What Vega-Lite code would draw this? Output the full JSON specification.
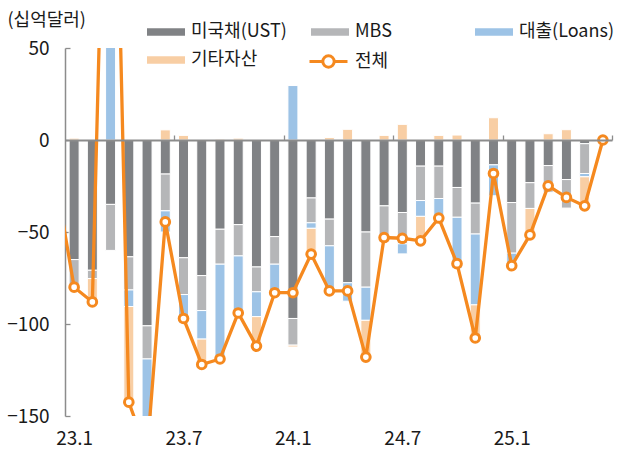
{
  "$schema": "https://vega.github.io/schema/vega-lite/v6.json",
  "autosize": {"type": "none"},
  "width": 547,
  "height": 368,
  "padding": {"left": 65, "top": 48, "right": 6, "bottom": 34},
  "config": {"font": "Noto Sans CJK KR", "view": {"stroke": null}, "axis": {"grid": false}},
  "datasets": {
    "flows": [
      {"month":"23.1","i":1,"series":"미국채(UST)","value":-65},
      {"month":"23.1","i":1,"series":"MBS","value":-15},
      {"month":"23.1","i":1,"series":"기타자산","value":1},
      {"month":"23.2","i":2,"series":"미국채(UST)","value":-70.8},
      {"month":"23.2","i":2,"series":"MBS","value":-4.5},
      {"month":"23.2","i":2,"series":"기타자산","value":-12.5},
      {"month":"23.3","i":3,"series":"미국채(UST)","value":-35},
      {"month":"23.3","i":3,"series":"MBS","value":-25},
      {"month":"23.3","i":3,"series":"대출(Loans)","value":350},
      {"month":"23.4","i":4,"series":"미국채(UST)","value":-63.5},
      {"month":"23.4","i":4,"series":"MBS","value":-18},
      {"month":"23.4","i":4,"series":"대출(Loans)","value":-9},
      {"month":"23.4","i":4,"series":"기타자산","value":-52},
      {"month":"23.5","i":5,"series":"미국채(UST)","value":-101},
      {"month":"23.5","i":5,"series":"MBS","value":-18},
      {"month":"23.5","i":5,"series":"대출(Loans)","value":-51},
      {"month":"23.6","i":6,"series":"미국채(UST)","value":-18.5},
      {"month":"23.6","i":6,"series":"MBS","value":-20},
      {"month":"23.6","i":6,"series":"대출(Loans)","value":-11.5},
      {"month":"23.6","i":6,"series":"기타자산","value":5.5},
      {"month":"23.7","i":7,"series":"미국채(UST)","value":-64},
      {"month":"23.7","i":7,"series":"MBS","value":-20},
      {"month":"23.7","i":7,"series":"대출(Loans)","value":-15.5},
      {"month":"23.7","i":7,"series":"기타자산","value":2.5},
      {"month":"23.8","i":8,"series":"미국채(UST)","value":-73.7},
      {"month":"23.8","i":8,"series":"MBS","value":-19},
      {"month":"23.8","i":8,"series":"대출(Loans)","value":-15.5},
      {"month":"23.8","i":8,"series":"기타자산","value":-13.8},
      {"month":"23.9","i":9,"series":"미국채(UST)","value":-48.5},
      {"month":"23.9","i":9,"series":"MBS","value":-19},
      {"month":"23.9","i":9,"series":"대출(Loans)","value":-52},
      {"month":"23.9","i":9,"series":"기타자산","value":0.5},
      {"month":"23.10","i":10,"series":"미국채(UST)","value":-46},
      {"month":"23.10","i":10,"series":"MBS","value":-17},
      {"month":"23.10","i":10,"series":"대출(Loans)","value":-32},
      {"month":"23.10","i":10,"series":"기타자산","value":1},
      {"month":"23.11","i":11,"series":"미국채(UST)","value":-69},
      {"month":"23.11","i":11,"series":"MBS","value":-13.5},
      {"month":"23.11","i":11,"series":"대출(Loans)","value":-13.5},
      {"month":"23.11","i":11,"series":"기타자산","value":-16},
      {"month":"23.12","i":12,"series":"미국채(UST)","value":-52.5},
      {"month":"23.12","i":12,"series":"MBS","value":-15},
      {"month":"23.12","i":12,"series":"대출(Loans)","value":-15.5},
      {"month":"24.1","i":13,"series":"미국채(UST)","value":-97},
      {"month":"24.1","i":13,"series":"MBS","value":-14.5},
      {"month":"24.1","i":13,"series":"대출(Loans)","value":29.6},
      {"month":"24.1","i":13,"series":"기타자산","value":-1},
      {"month":"24.2","i":14,"series":"미국채(UST)","value":-31.5},
      {"month":"24.2","i":14,"series":"MBS","value":-13.5},
      {"month":"24.2","i":14,"series":"대출(Loans)","value":-3},
      {"month":"24.2","i":14,"series":"기타자산","value":-14},
      {"month":"24.3","i":15,"series":"미국채(UST)","value":-43},
      {"month":"24.3","i":15,"series":"MBS","value":-14.5},
      {"month":"24.3","i":15,"series":"대출(Loans)","value":-26},
      {"month":"24.3","i":15,"series":"기타자산","value":1.3},
      {"month":"24.4","i":16,"series":"미국채(UST)","value":-77.6},
      {"month":"24.4","i":16,"series":"대출(Loans)","value":-10},
      {"month":"24.4","i":16,"series":"기타자산","value":5.8},
      {"month":"24.5","i":17,"series":"미국채(UST)","value":-50},
      {"month":"24.5","i":17,"series":"MBS","value":-30},
      {"month":"24.5","i":17,"series":"대출(Loans)","value":-18},
      {"month":"24.5","i":17,"series":"기타자산","value":-20},
      {"month":"24.6","i":18,"series":"미국채(UST)","value":-35.8},
      {"month":"24.6","i":18,"series":"MBS","value":-19.6},
      {"month":"24.6","i":18,"series":"기타자산","value":2.5},
      {"month":"24.7","i":19,"series":"미국채(UST)","value":-39.4},
      {"month":"24.7","i":19,"series":"MBS","value":-17},
      {"month":"24.7","i":19,"series":"대출(Loans)","value":-5.5},
      {"month":"24.7","i":19,"series":"기타자산","value":8.5},
      {"month":"24.8","i":20,"series":"미국채(UST)","value":-14.2},
      {"month":"24.8","i":20,"series":"MBS","value":-18.7},
      {"month":"24.8","i":20,"series":"대출(Loans)","value":-8.6},
      {"month":"24.8","i":20,"series":"기타자산","value":-13.3},
      {"month":"24.9","i":21,"series":"미국채(UST)","value":-14.2},
      {"month":"24.9","i":21,"series":"MBS","value":-17.6},
      {"month":"24.9","i":21,"series":"대출(Loans)","value":-13.1},
      {"month":"24.9","i":21,"series":"기타자산","value":2.5},
      {"month":"24.10","i":22,"series":"미국채(UST)","value":-25.8},
      {"month":"24.10","i":22,"series":"MBS","value":-16.2},
      {"month":"24.10","i":22,"series":"대출(Loans)","value":-27.9},
      {"month":"24.10","i":22,"series":"기타자산","value":2.7},
      {"month":"24.11","i":23,"series":"미국채(UST)","value":-34.3},
      {"month":"24.11","i":23,"series":"MBS","value":-16.8},
      {"month":"24.11","i":23,"series":"대출(Loans)","value":-38.5},
      {"month":"24.11","i":23,"series":"기타자산","value":-18},
      {"month":"24.12","i":24,"series":"미국채(UST)","value":-13.5},
      {"month":"24.12","i":24,"series":"대출(Loans)","value":-16.8},
      {"month":"24.12","i":24,"series":"기타자산","value":12.1},
      {"month":"25.1","i":25,"series":"미국채(UST)","value":-34},
      {"month":"25.1","i":25,"series":"MBS","value":-27.5},
      {"month":"25.1","i":25,"series":"대출(Loans)","value":-6.5},
      {"month":"25.2","i":26,"series":"미국채(UST)","value":-23.2},
      {"month":"25.2","i":26,"series":"MBS","value":-14},
      {"month":"25.2","i":26,"series":"기타자산","value":-14.4},
      {"month":"25.3","i":27,"series":"미국채(UST)","value":-13.9},
      {"month":"25.3","i":27,"series":"MBS","value":-14.5},
      {"month":"25.3","i":27,"series":"기타자산","value":3.4},
      {"month":"25.4","i":28,"series":"미국채(UST)","value":-21.5},
      {"month":"25.4","i":28,"series":"MBS","value":-15.5},
      {"month":"25.4","i":28,"series":"기타자산","value":5.6},
      {"month":"25.5","i":29,"series":"미국채(UST)","value":-2},
      {"month":"25.5","i":29,"series":"MBS","value":-16.2},
      {"month":"25.5","i":29,"series":"대출(Loans)","value":-1.8},
      {"month":"25.5","i":29,"series":"기타자산","value":-15.8}
    ],
    "total": [
      {"month":"22.12","i":0,"total":-22},
      {"month":"23.1","i":1,"total":-80},
      {"month":"23.2","i":2,"total":-88},
      {"month":"23.3","i":3,"total":290},
      {"month":"23.4","i":4,"total":-142.5},
      {"month":"23.5","i":5,"total":-170},
      {"month":"23.6","i":6,"total":-44.5},
      {"month":"23.7","i":7,"total":-97},
      {"month":"23.8","i":8,"total":-122},
      {"month":"23.9","i":9,"total":-119},
      {"month":"23.10","i":10,"total":-94},
      {"month":"23.11","i":11,"total":-112},
      {"month":"23.12","i":12,"total":-83},
      {"month":"24.1","i":13,"total":-83},
      {"month":"24.2","i":14,"total":-62},
      {"month":"24.3","i":15,"total":-82},
      {"month":"24.4","i":16,"total":-82},
      {"month":"24.5","i":17,"total":-118},
      {"month":"24.6","i":18,"total":-53},
      {"month":"24.7","i":19,"total":-53.4},
      {"month":"24.8","i":20,"total":-54.8},
      {"month":"24.9","i":21,"total":-42.4},
      {"month":"24.10","i":22,"total":-67.2},
      {"month":"24.11","i":23,"total":-107.6},
      {"month":"24.12","i":24,"total":-18.2},
      {"month":"25.1","i":25,"total":-68.3},
      {"month":"25.2","i":26,"total":-51.6},
      {"month":"25.3","i":27,"total":-24.9},
      {"month":"25.4","i":28,"total":-31.2},
      {"month":"25.5","i":29,"total":-35.8},
      {"month":"25.6","i":30,"total":0}
    ]
  },
  "layer": [
    {
      "data": {"name": "flows"},
      "transform": [{"calculate": "indexof(['미국채(UST)','MBS','대출(Loans)','기타자산'], datum.series)", "as": "ord"}],
      "mark": {"type": "bar", "width": 10, "stroke": "white", "strokeWidth": 1, "clip": true},
      "encoding": {
        "x": {"field": "i", "type": "quantitative", "scale": {"domain": [0.5, 30.5], "nice": false, "zero": false, "padding": 0},
          "axis": {"orient": "bottom", "values": [1, 7, 13, 19, 25], "labelExpr": "(23 + floor((datum.value - 1) / 12)) + '.' + ((datum.value - 1) % 12 + 1)", "domain": false, "ticks": false, "labelPadding": 13, "labelFontSize": 19, "labelColor": "#1a1a1a", "title": null, "grid": false}},
        "y": {"field": "value", "type": "quantitative", "stack": "zero", "scale": {"domain": [-150, 50], "nice": false, "padding": 0},
          "axis": {"values": [50, 0, -50, -100, -150], "domainColor": "#8c8c8c", "domainWidth": 1.5, "tickColor": "#8c8c8c", "tickWidth": 1.3, "tickSize": -5, "labelPadding": 21, "labelFontSize": 19, "labelColor": "#1a1a1a",
            "title": "(십억달러)", "titleAngle": 0, "titleX": -58, "titleY": -28, "titleAlign": "left", "titleBaseline": "middle", "titleFontSize": 18, "titleFontWeight": "normal", "titleColor": "#1a1a1a"}},
        "color": {"field": "series", "type": "nominal",
          "scale": {"domain": ["미국채(UST)", "MBS", "대출(Loans)", "기타자산"], "range": ["#808285", "#b5b6b8", "#9dc3e6", "#f8cea4"]},
          "legend": {"orient": "none", "legendX": 82, "legendY": -35, "direction": "horizontal", "columns": 3, "gridAlign": "all", "columnPadding": 24, "rowPadding": -6, "title": null, "symbolType": "M-1,-0.2H1V0.2H-1Z", "symbolSize": 1444, "symbolStrokeWidth": 0, "labelFontSize": 18, "labelOffset": 6, "labelColor": "#1a1a1a", "padding": 0}},
        "order": {"field": "ord"}
      }
    },
    {
      "data": {"name": "total"},
      "mark": {"type": "line", "strokeWidth": 3.3, "clip": true},
      "encoding": {
        "x": {"field": "i", "type": "quantitative",
          "axis": {"orient": "top", "values": [6.5, 12.5, 18.5, 24.5, 30.5], "labels": false, "domain": true, "domainColor": "#8c8c8c", "domainWidth": 2, "ticks": true, "tickSize": 5, "tickColor": "#8c8c8c", "tickWidth": 1.3, "offset": -92, "zindex": 1, "title": null, "grid": false}},
        "y": {"field": "total", "type": "quantitative"},
        "stroke": {"datum": "전체", "scale": {"range": ["#f5891f"]},
          "legend": {"orient": "none", "legendX": 243, "legendY": -7, "title": null, "symbolType": "M-1,0H-0.3M0.3,0H1M-0.3,0A0.3,0.3,0,1,1,0.3,0A0.3,0.3,0,1,1,-0.3,0", "symbolSize": 1444, "symbolStrokeWidth": 3, "symbolFillColor": "white", "labelFontSize": 18, "labelOffset": 6, "labelColor": "#1a1a1a", "padding": 0}}
      }
    },
    {
      "data": {"name": "total"},
      "mark": {"type": "point", "filled": true, "fill": "white", "stroke": "#f5891f", "strokeWidth": 3, "size": 75, "opacity": 1, "clip": true},
      "encoding": {
        "x": {"field": "i", "type": "quantitative", "axis": null},
        "y": {"field": "total", "type": "quantitative"}
      }
    }
  ],
  "resolve": {"axis": {"x": "independent"}}
}
